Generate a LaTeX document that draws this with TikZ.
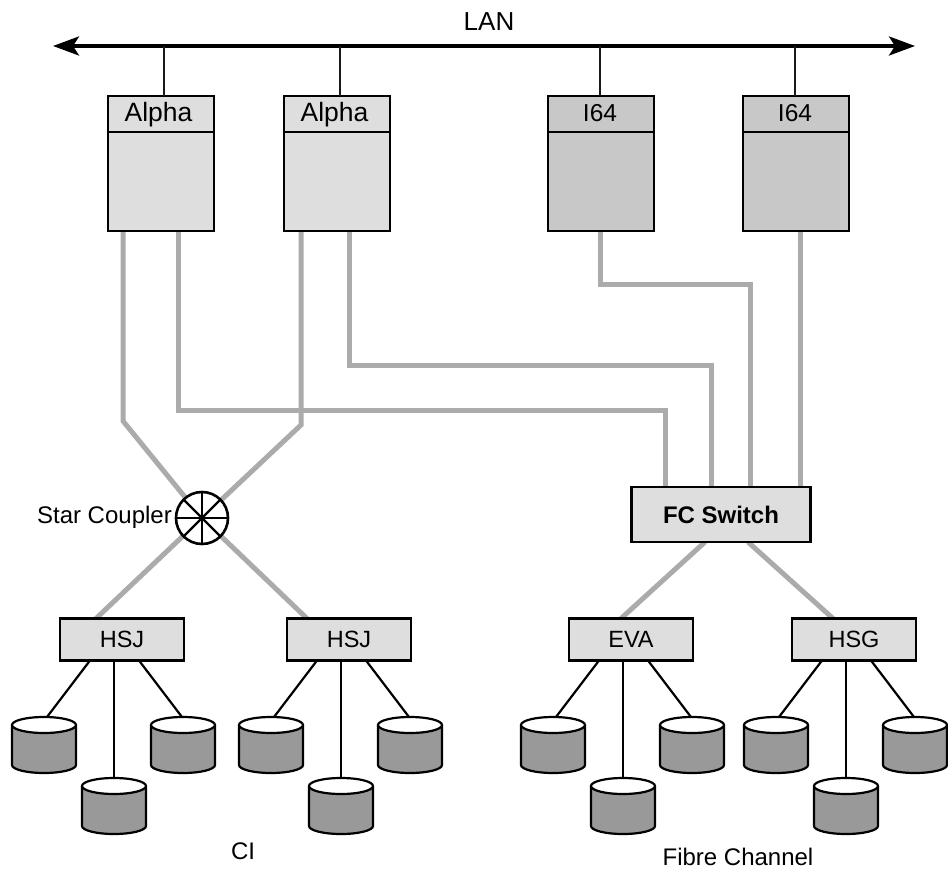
\documentclass[tikz,border=0pt]{standalone}
\usepackage{fontspec}
\setmainfont{Liberation Sans}
\usetikzlibrary{arrows.meta,backgrounds}
\definecolor{boxa}{HTML}{DEDEDE}
\definecolor{boxi}{HTML}{C8C8C8}
\definecolor{linkc}{HTML}{ABABAB}
\definecolor{diskc}{HTML}{999999}
\tikzset{
  frame/.style={draw=black,line width=2.8pt,inner sep=0pt,outer sep=0pt,font=\fontsize{23.5}{26}\selectfont},
  hdr/.style={frame,minimum width=106pt,minimum height=36pt,text height=16pt,text depth=0pt},
  alphahdr/.style={hdr,font=\fontsize{26.5}{28}\selectfont},
  i64hdr/.style={hdr,font=\fontsize{24.5}{28}\selectfont},
  body/.style={frame,minimum width=106pt,minimum height=99pt},
  ctrl/.style={frame,fill=boxa,minimum width=124pt,minimum height=42pt},
  link/.style={draw=linkc,line width=5pt,line join=miter},
  stem/.style={draw=black!90,line width=1.4pt},
  tap/.style={draw=black,line width=2.2pt},
  lbl/.style={inner sep=0pt,font=\fontsize{24}{26}\selectfont},
  diskbox/.style={minimum width=64pt,minimum height=56pt,inner sep=0pt,outer sep=0pt},
}
\newcommand{\diskdraw}[3]{%
  \node[diskbox] (#1) at (#2,#3) {};
  \fill[diskc] ([yshift=-8pt]#1.north west) -- ([yshift=8pt]#1.south west)
     arc[x radius=32pt,y radius=8pt,start angle=180,end angle=360] -- ([yshift=-8pt]#1.north east) -- cycle;
  \draw[line width=2.2pt] ([yshift=-8pt]#1.north west) -- ([yshift=8pt]#1.south west)
     arc[x radius=32pt,y radius=8pt,start angle=180,end angle=360] -- ([yshift=-8pt]#1.north east);
  \draw[line width=2.2pt,fill=white] ([yshift=-8pt]#1.north) ellipse[x radius=32pt,y radius=8pt];
}
\newcommand{\diskgroup}[4]{% prefix, controller, x of centre, label
  \node[ctrl] (#2) at (#3,639.5) {#4};
  \diskdraw{#2l}{#3-78}{745}
  \diskdraw{#2m}{#3-8}{806}
  \diskdraw{#2r}{#3+61}{745}
  \draw[tap] ([xshift=-32pt]#2.south) -- ([xshift=3pt]#2l.north);
  \draw[tap] ([xshift=-8pt]#2.south) -- (#2m.north);
  \draw[tap] ([xshift=17pt]#2.south) -- ([xshift=-1pt]#2r.north);
}
\begin{document}
\begin{tikzpicture}[x=1pt,y=-1pt]
\useasboundingbox (0,0) rectangle (948,869);

% LAN
\coordinate (lanl) at (53,46);
\coordinate (lanr) at (915,46);
\draw[line width=3.6pt,{Stealth[length=26pt,width=19pt,inset=6pt]}-{Stealth[length=26pt,width=19pt,inset=6pt]}] (lanl) -- (lanr);
\node[lbl,font=\fontsize{26}{28}\selectfont] (lan) at (489,22) {LAN};

% Hosts
\node[body,fill=boxa] (a1b) at (161,181.5) {};
\node[alphahdr,fill=boxa] (a1) at (161,114) {\hspace*{-5pt}Alpha};
\node[body,fill=boxa] (a2b) at (337,181.5) {};
\node[alphahdr,fill=boxa] (a2) at (337,114) {\hspace*{-5pt}Alpha};
\node[body,fill=boxi] (i1b) at (601,181.5) {};
\node[i64hdr,fill=boxi] (i1) at (601,114) {\hspace*{-2pt}I64};
\node[body,fill=boxi] (i2b) at (796,181.5) {};
\node[i64hdr,fill=boxi] (i2) at (796,114) {\hspace*{-2pt}I64};

\foreach \h/\x in {a1/164,a2/340,i1/600,i2/795}
  \draw[stem] (\x,46) -- (\x,96);

% Star coupler
\node[circle,draw=black,line width=2.6pt,fill=white,minimum size=52pt,inner sep=0pt,outer sep=0pt] (star) at (202,518) {};
\draw[line width=2.2pt] (star.north) -- (star.south);
\draw[line width=2.2pt] (star.west) -- (star.east);
\draw[line width=2.2pt] (star.45) -- (star.225);
\draw[line width=2.2pt] (star.135) -- (star.315);
\node[lbl,anchor=east] (starl) at (172,517) {Star Coupler};

% FC switch
\node[frame,fill=boxa,minimum width=179pt,minimum height=55pt,font=\fontsize{24}{26}\selectfont\bfseries] (fc) at (721,514.5) {FC Switch};

% Controllers and disks
\diskgroup{}{hsja}{122}{HSJ}
\diskgroup{}{hsjb}{349}{HSJ}
\diskgroup{}{eva}{631}{EVA}
\diskgroup{}{hsg}{854}{HSG}

% Fabric links
\begin{scope}[on background layer]
\draw[link] ([xshift=15pt]a1b.south west) -- ++(0,190) -- (star);
\draw[link] ([xshift=17pt]a2b.south west) -- ++(0,194) -- (star);
\draw[link] ([xshift=70pt]a1b.south west) -- ++(0,179) -| ([xshift=-56pt]fc.north);
\draw[link] ([xshift=65pt]a2b.south west) -- ++(0,134) -| ([xshift=-10pt]fc.north);
\draw[link] ([xshift=52pt]i1b.south west) -- ++(0,53) -| ([xshift=29pt]fc.north);
\draw[link] ([xshift=57pt]i2b.south west) -- ([xshift=79pt]fc.north);
\draw[link] (star) -- ([xshift=-26pt]hsja.north);
\draw[link] (star) -- ([xshift=-42pt]hsjb.north);
\draw[link] ([xshift=-16pt]fc.south) -- ([xshift=-10pt]eva.north);
\draw[link] ([xshift=27pt]fc.south) -- ([xshift=-21pt]hsg.north);
\end{scope}

% Group labels
\node[lbl] (ci) at (243,851) {CI};
\node[lbl] (fib) at (738,857) {Fibre Channel};
\end{tikzpicture}
\end{document}
